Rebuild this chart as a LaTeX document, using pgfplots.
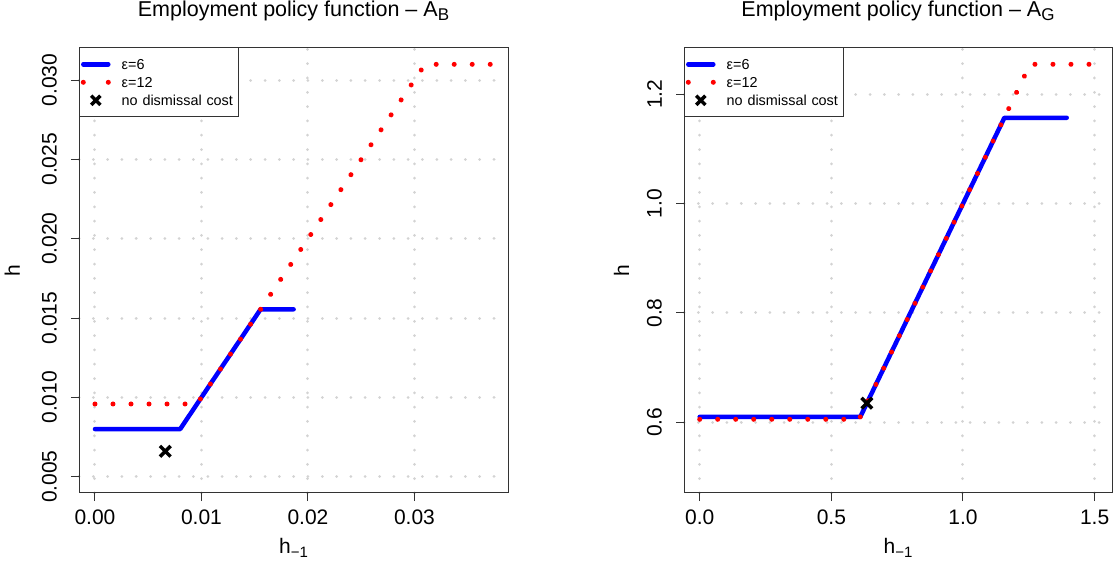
\documentclass[border=0pt]{standalone}
\usepackage{fontspec}
\setmainfont{Liberation Sans}
\usepackage{pgfplots}
\pgfplotsset{compat=1.18}
\definecolor{gridgray}{HTML}{D3D3D3}
\definecolor{rblue}{HTML}{0000FF}
\definecolor{rred}{HTML}{FF0000}
\definecolor{rbox}{HTML}{333333}

\pgfplotsset{
  rstyle/.style={
    scale only axis, width=429pt, height=445pt,
    axis line style={line width=1pt, rbox},
    tick align=outside, major tick length=8pt,
    tick style={line width=1pt, rbox},
    xtick pos=left, ytick pos=left,
    grid=major,
    grid style={gridgray, line width=3pt, dash pattern=on 0.01pt off 14.3pt, line cap=round},
    scaled ticks=false,
    ticklabel style={font=\fontsize{21}{21}\selectfont, inner sep=0pt},
    xticklabel style={anchor=north},
    yticklabel style={rotate=90, anchor=south},
    xticklabel shift=9pt,
    yticklabel shift=14pt,
    label style={font=\fontsize{21}{21}\selectfont, inner sep=0pt},
    xlabel style={at={(axis description cs:0.5,0)}, anchor=base, yshift=-60pt},
    title style={font=\fontsize{21.5}{21.5}\selectfont, inner sep=0pt, at={(axis description cs:0.5,1)}, anchor=base, yshift=25pt},
    legend style={at={(rel axis cs:0,1)}, anchor=north west, draw=rbox, line width=1pt, fill=white,
      inner xsep=0pt, inner ysep=7.3pt, outer sep=0pt, row sep=0pt, column sep=0pt,
      cells={anchor=west},
      nodes={inner sep=0pt, text height=10pt, text depth=0pt, text width=116.3pt, align=left,
             font=\fontsize{14.4}{16}\selectfont}},
  },
  blueline/.style={rblue, line width=4.5pt, line cap=round, line join=round,
    legend image code/.code={\path[draw=none,fill=none] (-4.3pt,-9pt) rectangle (38.4pt,9pt);
      \draw[rblue, line width=4.5pt, line cap=round, solid] (0pt,0pt) -- (25pt,0pt);}},
  redline/.style={rred, line width=5pt, line cap=round, dash pattern=on 0.01pt off 18pt,
    legend image code/.code={\path[draw=none,fill=none] (-4.3pt,-9pt) rectangle (38.4pt,9pt);
      \path[draw=none, fill=rred] (0pt,0pt) circle[radius=2.5pt] (25pt,0pt) circle[radius=2.5pt];}},
  xmark/.style={only marks, mark=x, mark size=7.5pt, black, line width=3.5pt,
    mark options={line width=3.5pt},
    legend image code/.code={\path[draw=none,fill=none] (-4.3pt,-9pt) rectangle (38.4pt,9pt);
      \draw[black, line width=3.5pt, solid] (12.5pt,0pt) ++(-4.6pt,-4.6pt) -- ++(9.2pt,9.2pt)
        ++(0pt,-9.2pt) -- ++(-9.2pt,9.2pt);}},
}

\begin{document}
\begin{tikzpicture}
\path (0pt,0pt) rectangle (1118pt,567pt);

\begin{axis}[rstyle, at={(79pt,74pt)}, anchor=south west,
  xmin=-0.0015, xmax=0.03878, ymin=0.00397, ymax=0.03202,
  xtick={0,0.01,0.02,0.03}, xticklabels={0.00,0.01,0.02,0.03},
  ytick={0.005,0.010,0.015,0.020,0.025,0.030},
  yticklabels={0.005,0.010,0.015,0.020,0.025,0.030},
  title={Employment policy function – A\raisebox{-3.3pt}{\fontsize{17}{17}\selectfont B}},
  xlabel={h\raisebox{-4pt}{\fontsize{15}{15}\selectfont −1}},
  ylabel={h},
  ylabel style={at={([xshift=-59pt]axis description cs:0,0.5)}, anchor=base},
]
\addplot[blueline] coordinates {(0,0.0080) (0.0080,0.0080) (0.01555,0.01555) (0.01865,0.01555)};
\addlegendentry{ε=6}
\addplot[redline] coordinates {(0,0.00958) (0.00958,0.00958) (0.03099,0.03099) (0.0373,0.03099)};
\addlegendentry{ε=12}
\addplot[xmark] coordinates {(0.0066,0.0066)};
\addlegendentry{no dismissal cost}
\end{axis}

\begin{axis}[rstyle, at={(684pt,74pt)}, anchor=south west, width=428pt,
  xmin=-0.0596, xmax=1.566, ymin=0.4707, ymax=1.2847,
  xtick={0,0.5,1,1.5}, xticklabels={0.0,0.5,1.0,1.5},
  ytick={0.6,0.8,1.0,1.2}, yticklabels={0.6,0.8,1.0,1.2},
  title={Employment policy function – A\raisebox{-3.3pt}{\fontsize{17}{17}\selectfont G}},
  xlabel={h\raisebox{-4pt}{\fontsize{15}{15}\selectfont −1}},
  ylabel={h},
  ylabel style={at={([xshift=-55pt]axis description cs:0,0.5)}, anchor=base},
]
\addplot[blueline] coordinates {(0,0.610) (0.610,0.610) (1.157,1.157) (1.394,1.157)};
\addlegendentry{ε=6}
\addplot[redline] coordinates {(0,0.6055) (0.6055,0.6055) (1.2549,1.2549) (1.49,1.2549)};
\addlegendentry{ε=12}
\addplot[xmark] coordinates {(0.635,0.635)};
\addlegendentry{no dismissal cost}
\end{axis}
\end{tikzpicture}
\end{document}
